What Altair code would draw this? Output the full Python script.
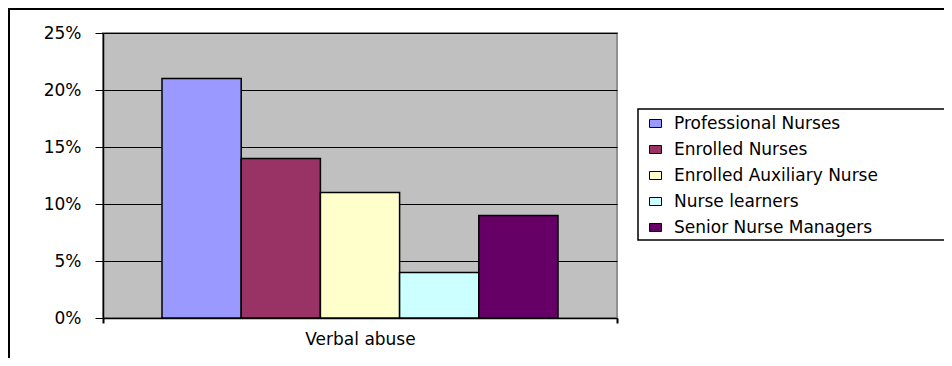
import altair as alt
import pandas as pd

# ---- data ----
category = ["Verbal abuse"]
groups = [
    "Professional Nurses",
    "Enrolled Nurses",
    "Enrolled Auxiliary Nurse",
    "Nurse learners",
    "Senior Nurse Managers",
]
values = [0.21, 0.14, 0.11, 0.04, 0.09]
colors = ["#9999FF", "#993366", "#FFFFCC", "#CCFFFF", "#660066"]
y_ticks = [0, 0.05, 0.10, 0.15, 0.20, 0.25]

df = pd.DataFrame({
    "category": category * len(groups),
    "group": groups,
    "value": values,
})

FONT = "DejaVu Sans"
FS = 17
W, H = 514, 285

bars = alt.Chart(df).mark_bar(stroke="black", strokeWidth=1.5).encode(
    x=alt.X(
        "category:N",
        scale=alt.Scale(paddingInner=0, paddingOuter=0),
        axis=alt.Axis(
            title=None, labelAngle=0, tickBand="extent", tickSize=5,
            labelPadding=8, domainColor="black", domainWidth=1.5,
            tickColor="black", tickWidth=2, labelFont=FONT, labelFontSize=FS,
            labelColor="black", grid=False,
        ),
    ),
    xOffset=alt.XOffset(
        "group:N", sort=groups,
        scale=alt.Scale(paddingInner=0, paddingOuter=0.745),
    ),
    y=alt.Y(
        "value:Q",
        scale=alt.Scale(domain=[0, 0.25], nice=False),
        axis=alt.Axis(
            title=None, values=y_ticks, format=".0%", tickSize=8,
            labelPadding=14, domainColor="black", domainWidth=1.5,
            tickColor="black", labelFont=FONT, labelFontSize=FS,
            labelColor="black", gridColor="black", gridWidth=1,
            gridOpacity=1,
        ),
    ),
    color=alt.Color(
        "group:N", sort=groups,
        scale=alt.Scale(domain=groups, range=colors),
        legend=alt.Legend(
            title=None, orient="none", legendX=544, legendY=82,
            padding=0, labelFont=FONT, labelFontSize=FS, labelColor="black",
            labelLimit=400, labelOffset=10, rowPadding=8,
            symbolType="M-1,-0.667H1V0.667H-1Z", symbolSize=144,
            symbolStrokeColor="black", symbolStrokeWidth=1,
            symbolOpacity=1,
        ),
    ),
)

frame_src = pd.DataFrame({"k": [0]})

# outer chart border (top and left edges visible, rest runs off the page)
outer = alt.Chart(frame_src).mark_rect(
    fill=None, stroke="black", strokeWidth=2
).encode(
    x=alt.value(-94), x2=alt.value(900),
    y=alt.value(-24), y2=alt.value(400),
)

# legend box (right edge runs off the page)
legend_box = alt.Chart(frame_src).mark_rect(
    fill="white", stroke="black", strokeWidth=1.5
).encode(
    x=alt.value(535), x2=alt.value(900),
    y=alt.value(76), y2=alt.value(207),
)

chart = alt.layer(outer, legend_box, bars).properties(
    width=W, height=H,
    autosize=alt.AutoSizeParams(type="none"),
    padding={"left": 95, "top": 25, "right": 327, "bottom": 40},
).configure(background="white").configure_view(
    fill="#C0C0C0", stroke="#909090", strokeWidth=2,
)

chart.save("out.html", embed_options={"renderer": "svg", "actions": False})
